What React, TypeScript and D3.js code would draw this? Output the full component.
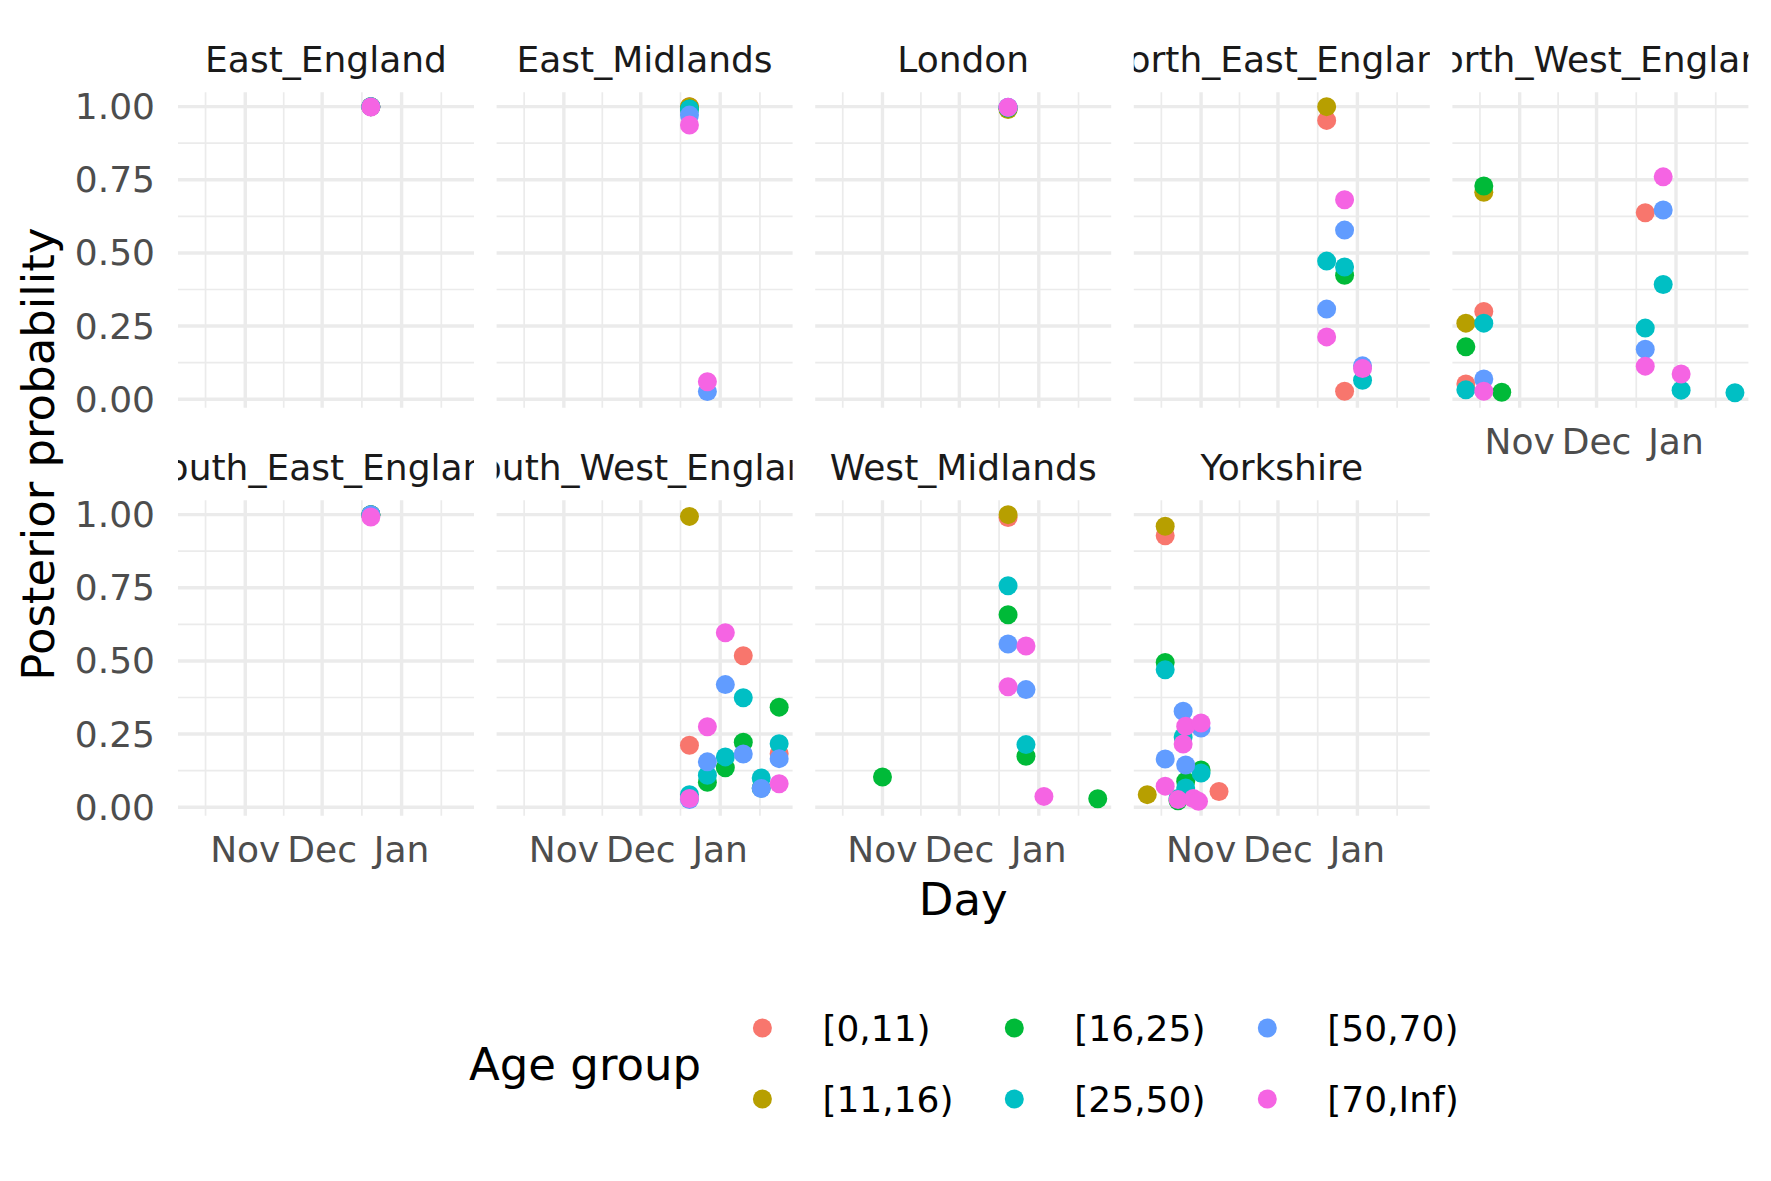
import React from "react";
import * as d3 from "d3";

type Obs = [string, string, number];

const regions = [
  "East_England",
  "East_Midlands",
  "London",
  "North_East_England",
  "North_West_England",
  "South_East_England",
  "South_West_England",
  "West_Midlands",
  "Yorkshire",
];

const ageGroups = ["[0,11)", "[11,16)", "[16,25)", "[25,50)", "[50,70)", "[70,Inf)"];
const ageColors = ["#F8766D", "#B79F00", "#00BA38", "#00BFC4", "#619CFF", "#F564E3"];

const monthTicks = ["2020-10-01", "2020-11-01", "2020-12-01", "2021-01-01", "2021-02-01"];
const yTicks = [0, 0.25, 0.5, 0.75, 1];

// [day, age group, posterior probability]
const eastEngland: Obs[] = [
  ["2020-12-20", "[0,11)", 1.0],
  ["2020-12-20", "[11,16)", 1.0],
  ["2020-12-20", "[16,25)", 1.0],
  ["2020-12-20", "[25,50)", 1.0],
  ["2020-12-20", "[50,70)", 1.0],
  ["2020-12-20", "[70,Inf)", 0.999],
];

const eastMidlands: Obs[] = [
  ["2020-12-20", "[0,11)", 1.0],
  ["2020-12-20", "[11,16)", 1.0],
  ["2020-12-20", "[16,25)", 0.992],
  ["2020-12-20", "[25,50)", 0.992],
  ["2020-12-20", "[50,70)", 0.971],
  ["2020-12-20", "[70,Inf)", 0.937],
  ["2020-12-27", "[50,70)", 0.026],
  ["2020-12-27", "[70,Inf)", 0.06],
];

const london: Obs[] = [
  ["2020-12-20", "[0,11)", 0.995],
  ["2020-12-20", "[11,16)", 0.99],
  ["2020-12-20", "[16,25)", 0.995],
  ["2020-12-20", "[25,50)", 0.997],
  ["2020-12-20", "[50,70)", 0.998],
  ["2020-12-20", "[70,Inf)", 0.998],
];

const northEast: Obs[] = [
  ["2020-12-20", "[0,11)", 0.953],
  ["2020-12-20", "[11,16)", 1.0],
  ["2020-12-20", "[25,50)", 0.472],
  ["2020-12-20", "[50,70)", 0.308],
  ["2020-12-20", "[70,Inf)", 0.213],
  ["2020-12-27", "[0,11)", 0.027],
  ["2020-12-27", "[16,25)", 0.424],
  ["2020-12-27", "[25,50)", 0.452],
  ["2020-12-27", "[50,70)", 0.578],
  ["2020-12-27", "[70,Inf)", 0.682],
  ["2021-01-03", "[25,50)", 0.065],
  ["2021-01-03", "[50,70)", 0.114],
  ["2021-01-03", "[70,Inf)", 0.105],
];

const northWest: Obs[] = [
  ["2020-10-11", "[0,11)", 0.052],
  ["2020-10-11", "[11,16)", 0.26],
  ["2020-10-11", "[16,25)", 0.179],
  ["2020-10-11", "[25,50)", 0.032],
  ["2020-10-18", "[0,11)", 0.3],
  ["2020-10-18", "[11,16)", 0.707],
  ["2020-10-18", "[16,25)", 0.729],
  ["2020-10-18", "[25,50)", 0.26],
  ["2020-10-18", "[50,70)", 0.069],
  ["2020-10-18", "[70,Inf)", 0.027],
  ["2020-10-25", "[16,25)", 0.024],
  ["2020-12-20", "[0,11)", 0.637],
  ["2020-12-20", "[25,50)", 0.243],
  ["2020-12-20", "[50,70)", 0.171],
  ["2020-12-20", "[70,Inf)", 0.113],
  ["2020-12-27", "[25,50)", 0.392],
  ["2020-12-27", "[50,70)", 0.647],
  ["2020-12-27", "[70,Inf)", 0.76],
  ["2021-01-03", "[25,50)", 0.031],
  ["2021-01-03", "[70,Inf)", 0.086],
  ["2021-01-24", "[25,50)", 0.022],
];

const southEast: Obs[] = [
  ["2020-12-20", "[0,11)", 1.0],
  ["2020-12-20", "[11,16)", 1.0],
  ["2020-12-20", "[16,25)", 1.0],
  ["2020-12-20", "[25,50)", 1.0],
  ["2020-12-20", "[50,70)", 1.0],
  ["2020-12-20", "[70,Inf)", 0.992],
];

const southWest: Obs[] = [
  ["2020-12-20", "[0,11)", 0.212],
  ["2020-12-20", "[11,16)", 0.994],
  ["2020-12-20", "[25,50)", 0.043],
  ["2020-12-20", "[50,70)", 0.026],
  ["2020-12-20", "[70,Inf)", 0.03],
  ["2020-12-27", "[16,25)", 0.085],
  ["2020-12-27", "[25,50)", 0.109],
  ["2020-12-27", "[50,70)", 0.155],
  ["2020-12-27", "[70,Inf)", 0.275],
  ["2021-01-03", "[16,25)", 0.135],
  ["2021-01-03", "[25,50)", 0.172],
  ["2021-01-03", "[50,70)", 0.419],
  ["2021-01-03", "[70,Inf)", 0.596],
  ["2021-01-10", "[0,11)", 0.518],
  ["2021-01-10", "[16,25)", 0.222],
  ["2021-01-10", "[25,50)", 0.374],
  ["2021-01-10", "[50,70)", 0.182],
  ["2021-01-17", "[16,25)", 0.066],
  ["2021-01-17", "[25,50)", 0.1],
  ["2021-01-17", "[50,70)", 0.064],
  ["2021-01-24", "[0,11)", 0.183],
  ["2021-01-24", "[16,25)", 0.342],
  ["2021-01-24", "[25,50)", 0.217],
  ["2021-01-24", "[50,70)", 0.166],
  ["2021-01-24", "[70,Inf)", 0.08],
];

const westMidlands: Obs[] = [
  ["2020-11-01", "[16,25)", 0.103],
  ["2020-12-20", "[0,11)", 0.99],
  ["2020-12-20", "[11,16)", 1.0],
  ["2020-12-20", "[16,25)", 0.658],
  ["2020-12-20", "[25,50)", 0.757],
  ["2020-12-20", "[50,70)", 0.558],
  ["2020-12-20", "[70,Inf)", 0.412],
  ["2020-12-27", "[16,25)", 0.174],
  ["2020-12-27", "[25,50)", 0.214],
  ["2020-12-27", "[50,70)", 0.402],
  ["2020-12-27", "[70,Inf)", 0.551],
  ["2021-01-03", "[70,Inf)", 0.037],
  ["2021-01-24", "[16,25)", 0.029],
];

const yorkshire: Obs[] = [
  ["2020-10-11", "[11,16)", 0.043],
  ["2020-10-18", "[0,11)", 0.928],
  ["2020-10-18", "[11,16)", 0.96],
  ["2020-10-18", "[16,25)", 0.495],
  ["2020-10-18", "[25,50)", 0.47],
  ["2020-10-18", "[50,70)", 0.165],
  ["2020-10-18", "[70,Inf)", 0.072],
  ["2020-10-23", "[16,25)", 0.022],
  ["2020-10-23", "[25,50)", 0.03],
  ["2020-10-23", "[70,Inf)", 0.026],
  ["2020-10-25", "[25,50)", 0.24],
  ["2020-10-25", "[50,70)", 0.328],
  ["2020-10-25", "[70,Inf)", 0.216],
  ["2020-10-26", "[16,25)", 0.089],
  ["2020-10-26", "[25,50)", 0.066],
  ["2020-10-26", "[50,70)", 0.144],
  ["2020-10-26", "[70,Inf)", 0.277],
  ["2020-10-29", "[70,Inf)", 0.03],
  ["2020-10-31", "[70,Inf)", 0.02],
  ["2020-11-01", "[16,25)", 0.127],
  ["2020-11-01", "[25,50)", 0.117],
  ["2020-11-01", "[50,70)", 0.271],
  ["2020-11-01", "[70,Inf)", 0.288],
  ["2020-11-08", "[0,11)", 0.054],
];

const regionData: Obs[][] = [
  eastEngland, eastMidlands, london, northEast, northWest,
  southEast, southWest, westMidlands, yorkshire,
];

const W = 1771;
const H = 1181;
const FONT = "DejaVu Sans";
const panelW = 296;
const panelH = 315.4;
const left0 = 178;
const colStep = 318.6;
const top0 = 92.3;
const rowStep = 408;
const nCol = 5;

const parse = d3.utcParse("%Y-%m-%d");

export default function App() {
  const allObs = regionData.flat();
  const dates = allObs.map((d) => parse(d[0]) as Date);
  const [dMin, dMax] = d3.extent(dates) as [Date, Date];
  const span = +dMax - +dMin;
  const x = d3
    .scaleUtc()
    .domain([new Date(+dMin - 0.05 * span), new Date(+dMax + 0.05 * span)])
    .range([0, panelW]);

  const [vMin, vMax] = d3.extent(allObs, (d) => d[2]) as [number, number];
  const vr = vMax - vMin;
  const y = d3
    .scaleLinear()
    .domain([vMin - 0.05 * vr, vMax + 0.05 * vr])
    .range([panelH, 0]);

  const color = d3.scaleOrdinal<string, string>().domain(ageGroups).range(ageColors);

  const majors = monthTicks.map((s) => parse(s) as Date);
  const minors = d3.pairs(majors).map(([a, b]) => new Date((+a + +b) / 2));
  const [x0, x1] = x.domain();
  const inX = (d: Date) => d >= x0 && d <= x1;
  const majorX = majors.filter(inX);
  const minorX = minors.filter(inX);
  const yMinor = d3.pairs(yTicks).map(([a, b]) => (a + b) / 2);
  const fmtMonth = d3.utcFormat("%b");

  return (
    <svg
      width={W}
      height={H}
      style={{ position: "absolute", left: 0, top: 0, background: "#fff" }}
      fontFamily={FONT}
    >
      <rect width={W} height={H} fill="#fff" />
      <defs>
        {regions.map((r, i) => (
          <clipPath id={`strip-${i}`} key={r}>
            <rect
              x={left0 + (i % nCol) * colStep}
              y={top0 + Math.floor(i / nCol) * rowStep - 60}
              width={panelW}
              height={60}
            />
          </clipPath>
        ))}
      </defs>

      {regions.map((region, i) => {
        const col = i % nCol;
        const row = Math.floor(i / nCol);
        const px = left0 + col * colStep;
        const py = top0 + row * rowStep;
        const showX = row === 1 || i + nCol >= regions.length;
        const pts = [...regionData[i]].sort(
          (a, b) => ageGroups.indexOf(a[1]) - ageGroups.indexOf(b[1])
        );
        return (
          <g key={region}>
            <text
              x={px + panelW / 2}
              y={py - 20.6}
              textAnchor="middle"
              fontSize={36}
              fill="#1A1A1A"
              clipPath={`url(#strip-${i})`}
            >
              {region}
            </text>
            <g transform={`translate(${px},${py})`}>
              {yMinor.map((t) => (
                <line key={`ym${t}`} x1={0} x2={panelW} y1={y(t)} y2={y(t)} stroke="#EBEBEB" strokeWidth={1.7} />
              ))}
              {minorX.map((d) => (
                <line key={`xm${+d}`} x1={x(d)} x2={x(d)} y1={0} y2={panelH} stroke="#EBEBEB" strokeWidth={1.7} />
              ))}
              {yTicks.map((t) => (
                <line key={`y${t}`} x1={0} x2={panelW} y1={y(t)} y2={y(t)} stroke="#EBEBEB" strokeWidth={3.4} />
              ))}
              {majorX.map((d) => (
                <line key={`x${+d}`} x1={x(d)} x2={x(d)} y1={0} y2={panelH} stroke="#EBEBEB" strokeWidth={3.4} />
              ))}
              {pts.map((d, j) => (
                <circle
                  key={j}
                  cx={x(parse(d[0]) as Date)}
                  cy={y(d[2])}
                  r={9.5}
                  fill={color(d[1])}
                />
              ))}
              {col === 0 &&
                yTicks.map((t) => (
                  <text
                    key={`yl${t}`}
                    x={-23}
                    y={y(t)}
                    textAnchor="end"
                    dominantBaseline="central"
                    fontSize={36}
                    fill="#4D4D4D"
                  >
                    {t.toFixed(2)}
                  </text>
                ))}
              {showX &&
                majorX.map((d) => (
                  <text
                    key={`xl${+d}`}
                    x={x(d)}
                    y={panelH + 46}
                    textAnchor="middle"
                    fontSize={36}
                    fill="#4D4D4D"
                  >
                    {fmtMonth(d)}
                  </text>
                ))}
            </g>
          </g>
        );
      })}

      <text
        x={left0 + ((nCol - 1) * colStep + panelW) / 2}
        y={915}
        textAnchor="middle"
        fontSize={45}
        fill="#000"
      >
        Day
      </text>
      <text
        transform={`translate(54,${top0 + (rowStep + panelH) / 2}) rotate(-90)`}
        textAnchor="middle"
        fontSize={45}
        fill="#000"
      >
        Posterior probability
      </text>

      <text x={469} y={1064} dominantBaseline="central" fontSize={45} fill="#000">
        Age group
      </text>
      {ageGroups.map((g, i) => {
        const c = Math.floor(i / 2);
        const r = i % 2;
        const kx = [762.4, 1014.3, 1267.3][c];
        const ky = 1028 + r * 71;
        return (
          <g key={g}>
            <circle cx={kx} cy={ky} r={9.5} fill={color(g)} />
            <text x={kx + 60} y={ky} dominantBaseline="central" fontSize={36} fill="#000">
              {g}
            </text>
          </g>
        );
      })}
    </svg>
  );
}
